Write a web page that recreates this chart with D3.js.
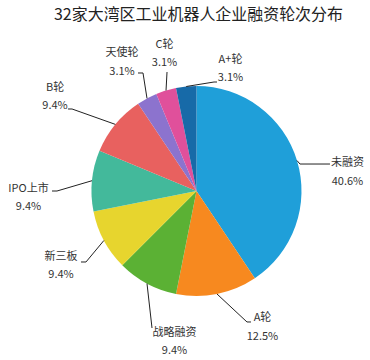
<!DOCTYPE html>
<html><head><meta charset="utf-8">
<script src="https://cdn.jsdelivr.net/npm/d3@7/dist/d3.min.js"></script>
<style>
html,body{margin:0;padding:0;background:#fff;}
text{font-family:"Microsoft YaHei","Noto Sans CJK SC","Noto Sans",sans-serif;}
</style></head>
<body>
<svg id="chart" width="370" height="360"></svg>
<script>
const title = "32家大湾区工业机器人企业融资轮次分布";
const categories = ["未融资","A轮","战略融资","新三板","IPO上市","B轮","天使轮","C轮","A+轮"];
const counts = [13,4,3,3,3,3,1,1,1];
const percentLabels = ["40.6%","12.5%","9.4%","9.4%","9.4%","9.4%","3.1%","3.1%","3.1%"];
const colors = ["#1f9fd9","#f7891f","#5bb134","#e7d52e","#43b99b","#e8615f","#8c73ce","#e0509b","#176aa8"];

// label line layout (elbow offset from slice edge, horizontal hook, text offset from line end)
const labelLayout = [
  {elbow:[3,3.5],   hook:30, text:[17.5,-1.5]},
  {elbow:[30,28],   hook:4,  text:[11.5,-4.5]},
  {elbow:[5,44.4],  hook:0,  text:[22.5,4]},
  {elbow:[-17.9,21.5], hook:-5, text:[-20,-6]},
  {elbow:[-35,10.3], hook:-5, text:[-23.5,-3]},
  {elbow:[-43.3,-15.4], hook:-4, text:[-13,-22]},
  {elbow:[-4,-25.4], hook:-5, text:[-16,-20.5]},
  {elbow:[1,-18.5], hook:0, text:[-2.5,-28]},
  {elbow:[27.8,-4.5], hook:3, text:[13.5,-23]}
];

const svg = d3.select("#chart");
const cx = 196.5, cy = 191, R = 105;

svg.append("text").attr("x",198.5).attr("y",19.5).attr("text-anchor","middle")
  .attr("textLength",289).attr("lengthAdjust","spacingAndGlyphs")
  .attr("font-size",16).attr("fill","#222").text(title);

const pie = d3.pie().sort(null).value(d=>d);
const arcs = pie(counts);
const arc = d3.arc().innerRadius(0).outerRadius(R);
const edgeArc = d3.arc().innerRadius(R).outerRadius(R);

const g = svg.append("g").attr("transform",`translate(${cx},${cy})`);
g.selectAll("path.slice").data(arcs).join("path").attr("class","slice")
  .attr("d",arc).attr("fill",(d,i)=>colors[i]);

const lbl = g.append("g");
arcs.forEach((d,i)=>{
  const L = labelLayout[i];
  const e = edgeArc.centroid(d);
  const el = [e[0]+L.elbow[0], e[1]+L.elbow[1]];
  const end = [el[0]+L.hook, el[1]];
  lbl.append("path")
    .attr("d", d3.line()([e, el, end]))
    .attr("fill","none").attr("stroke","#222").attr("stroke-width",1);
  const tx = end[0]+L.text[0], ty = end[1]+L.text[1];
  lbl.append("text").attr("x",tx).attr("y",ty).attr("dy","0.35em")
    .attr("text-anchor","middle").attr("font-size",11).attr("fill","#333")
    .text(categories[i]);
  lbl.append("text").attr("x",tx).attr("y",ty+18.5).attr("dy","0.35em")
    .attr("text-anchor","middle").attr("font-size",11).attr("fill","#333")
    .text(percentLabels[i]);
});
</script>
</body></html>
